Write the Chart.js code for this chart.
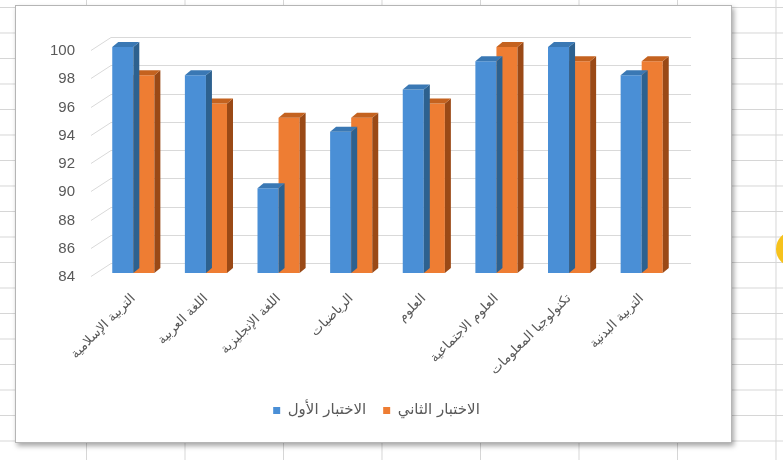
<!DOCTYPE html>
<html>
<head>
<meta charset="utf-8">
<script src="https://cdn.jsdelivr.net/npm/chart.js@4"></script>
<style>
  html, body { margin: 0; padding: 0; }
  body {
    width: 783px; height: 460px; overflow: hidden; position: relative;
    background-color: #fff;
    background-image:
      linear-gradient(to right, #d6d6d6 1px, transparent 1px),
      linear-gradient(to bottom, #d6d6d6 1px, transparent 1px);
    background-size: 98.5px 25.5px;
    background-position: 86px 7px;
  }
  #box {
    position: absolute; left: 15px; top: 5px; width: 717px; height: 438px;
    background: #fff; border: 1px solid #b5b5b5; box-sizing: border-box;
    box-shadow: 2px 3px 5px rgba(0,0,0,0.35);
  }
  #dot {
    position: absolute; left: 776px; top: 231px; width: 36px; height: 36px;
    border-radius: 50%; background: #f6c21c;
  }
</style>
</head>
<body>
<div id="box"><canvas id="marksChart" width="715" height="436"></canvas></div>
<div id="dot"></div>
<script>
// Data
const categories = [
  "التربية الإسلامية", "اللغة العربية", "اللغة الإنجليزية", "الرياضيات",
  "العلوم", "العلوم الاجتماعية", "تكنولوجيا المعلومات", "التربية البدنية"
];
const firstTest = [100, 98, 90, 94, 97, 99, 100, 98];
const secondTest = [98, 96, 95, 95, 96, 100, 99, 99];
const seriesNames = ["الاختبار الأول", "الاختبار الثاني"];
const yMin = 84, yMax = 100, yStep = 2;

const DX = 6, DY = 5;
const sideColors = ["#2d618f", "#9a4916"];
const topColors = ["#3a78b4", "#c4621f"];

// back wall grid lines + diagonal floor ticks
const wallGrid = {
  id: "wallGrid",
  beforeDatasetsDraw(chart) {
    const { ctx, chartArea, scales } = chart;
    ctx.save();
    ctx.strokeStyle = "#d9d9d9";
    ctx.lineWidth = 1;
    scales.y.ticks.forEach((t) => {
      const y = Math.round(scales.y.getPixelForValue(t.value)) + 0.5;
      ctx.beginPath();
      ctx.moveTo(chartArea.left - 6, y + 3);
      ctx.lineTo(chartArea.left + 14, y - 10);
      ctx.lineTo(chartArea.right + 13, y - 10);
      ctx.stroke();
    });
    ctx.restore();
  },
};

// fake 3D: side and top faces, drawn after each dataset so the next one covers it
const bar3d = {
  id: "bar3d",
  afterDatasetDraw(chart, args) {
    const { ctx, chartArea } = chart;
    const i = args.index;
    ctx.save();
    args.meta.data.forEach((bar) => {
      const p = bar.getProps(["x", "y", "base", "width"], true);
      const base = Math.min(p.base, chartArea.bottom);
      const l = p.x - p.width / 2, r = p.x + p.width / 2;
      ctx.fillStyle = sideColors[i];
      ctx.beginPath();
      ctx.moveTo(r, p.y);
      ctx.lineTo(r + DX, p.y - DY);
      ctx.lineTo(r + DX, base - DY);
      ctx.lineTo(r, base);
      ctx.closePath();
      ctx.fill();
      ctx.fillStyle = topColors[i];
      ctx.beginPath();
      ctx.moveTo(l, p.y);
      ctx.lineTo(l + DX, p.y - DY);
      ctx.lineTo(r + DX, p.y - DY);
      ctx.lineTo(r, p.y);
      ctx.closePath();
      ctx.fill();
    });
    ctx.restore();
  },
};

// the legend sits centred on the whole chart box, not on the padded area
const legendShift = {
  id: "legendShift",
  beforeDraw(chart) {
    const lg = chart.legend;
    if (!lg || lg._shifted) return;
    lg.left += 22;
    lg.right += 22;
    lg._shifted = true;
  },
};

const labelFont = { family: "'DejaVu Sans', Arial, sans-serif", size: 12 };

new Chart(document.getElementById("marksChart").getContext("2d"), {
  type: "bar",
  data: {
    labels: categories,
    datasets: [
      { label: seriesNames[0], data: firstTest, backgroundColor: "#4a8fd6" },
      { label: seriesNames[1], data: secondTest, backgroundColor: "#ee7d33" },
    ],
  },
  options: {
    responsive: false,
    animation: false,
    categoryPercentage: 0.58,
    barPercentage: 1,
    layout: { padding: { left: 15, right: 53, top: 41, bottom: 14 } },
    plugins: {
      legend: {
        position: "bottom",
        labels: {
          boxWidth: 7, boxHeight: 7, padding: 17,
          color: "#595959",
          font: { ...labelFont, size: 15 },
        },
      },
      tooltip: { enabled: false },
    },
    scales: {
      x: {
        grid: { display: false },
        border: { display: false },
        ticks: {
          color: "#595959", font: { ...labelFont, size: 13 },
          minRotation: 45, maxRotation: 45, autoSkip: false, padding: 10,
        },
        afterFit(scale) { scale.height = 113; },
      },
      y: {
        min: yMin, max: yMax,
        grid: { display: false },
        border: { display: false },
        ticks: {
          stepSize: yStep, color: "#595959", padding: 14, labelOffset: 4,
          font: { family: "'Liberation Sans', Arial, sans-serif", size: 15 },
        },
        afterFit(scale) { scale.width = 66; },
      },
    },
  },
  plugins: [wallGrid, bar3d, legendShift],
});
</script>
</body>
</html>
